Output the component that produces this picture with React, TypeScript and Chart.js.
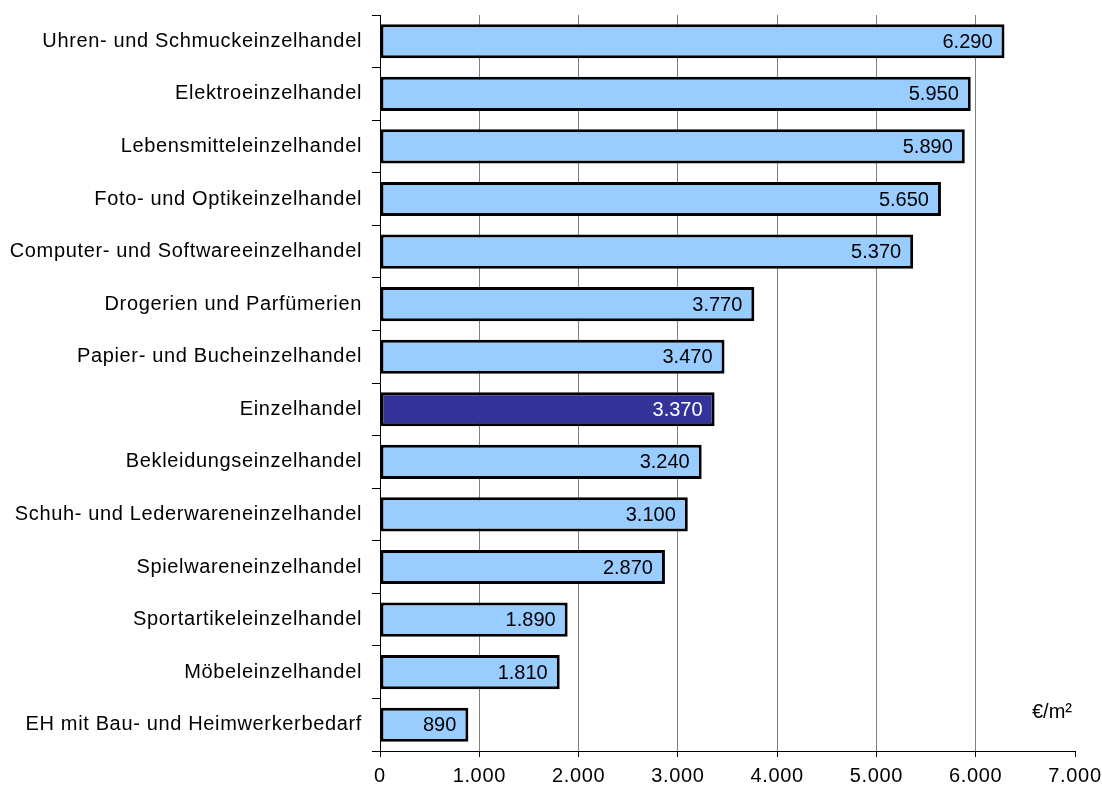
import { useEffect, useRef } from 'react';
import { Chart, registerables } from 'chart.js';

Chart.register(...registerables);

// Umsatz je Quadratmeter Verkaufsfläche nach Branche
const categories = [
  'Uhren- und Schmuckeinzelhandel',
  'Elektroeinzelhandel',
  'Lebensmitteleinzelhandel',
  'Foto- und Optikeinzelhandel',
  'Computer- und Softwareeinzelhandel',
  'Drogerien und Parfümerien',
  'Papier- und Bucheinzelhandel',
  'Einzelhandel',
  'Bekleidungseinzelhandel',
  'Schuh- und Lederwareneinzelhandel',
  'Spielwareneinzelhandel',
  'Sportartikeleinzelhandel',
  'Möbeleinzelhandel',
  'EH mit Bau- und Heimwerkerbedarf',
];
const values = [6290, 5950, 5890, 5650, 5370, 3770, 3470, 3370, 3240, 3100, 2870, 1890, 1810, 890];
const highlighted = 'Einzelhandel';
const axisMin = 0;
const axisMax = 7000;
const axisStep = 1000;
const unitLabel = '€/m²';

const FONT = '"Liberation Sans", Arial, Helvetica, sans-serif';
const LIGHT = '#99CCFF';
const DARK = '#333399';

const formatDe = (n: number) => String(n).replace(/\B(?=(\d{3})+(?!\d))/g, '.');

const barLabels = {
  id: 'barLabels',
  beforeDraw(chart: any) {
    // slightly tracked category labels
    chart.ctx.letterSpacing = '0.65px';
  },
  afterDatasetsDraw(chart: any) {
    const ctx = chart.ctx;
    const meta = chart.getDatasetMeta(0);
    ctx.save();
    ctx.letterSpacing = '0px';
    ctx.font = `20px ${FONT}`;
    ctx.textAlign = 'right';
    ctx.textBaseline = 'middle';
    meta.data.forEach((bar: any, i: number) => {
      ctx.fillStyle = categories[i] === highlighted ? '#FFFFFF' : '#000000';
      ctx.fillText(formatDe(values[i]), bar.x - 12, bar.y + 1);
    });
    ctx.restore();
  },
  afterDraw(chart: any) {
    const ctx = chart.ctx;
    const area = chart.chartArea;
    ctx.save();
    ctx.letterSpacing = '0px';
    ctx.font = `20px ${FONT}`;
    ctx.fillStyle = '#000000';
    ctx.textAlign = 'right';
    ctx.textBaseline = 'middle';
    ctx.fillText(unitLabel, area.right - 3, area.bottom - 39);
    ctx.restore();
  },
};

export default function App() {
  const canvasRef = useRef<HTMLCanvasElement | null>(null);

  useEffect(() => {
    if (!canvasRef.current) return;
    const chart = new Chart(canvasRef.current, {
      type: 'bar',
      data: {
        labels: categories,
        datasets: [
          {
            data: values,
            backgroundColor: categories.map((c) => (c === highlighted ? DARK : LIGHT)),
            borderColor: '#000000',
            borderWidth: 3,
            borderSkipped: false,
            barPercentage: 0.65,
            categoryPercentage: 1,
          },
        ],
      },
      options: {
        indexAxis: 'y',
        animation: false,
        responsive: true,
        maintainAspectRatio: false,
        layout: { padding: { top: 15, right: 27, bottom: 0, left: 0 } },
        plugins: {
          legend: { display: false },
          tooltip: { enabled: false },
        },
        scales: {
          x: {
            min: axisMin,
            max: axisMax,
            afterFit: (scale: any) => {
              scale.height = 38;
              scale.paddingLeft = 0;
              scale.paddingRight = 0;
            },
            ticks: {
              stepSize: axisStep,
              color: '#000000',
              font: { family: FONT, size: 20 },
              padding: 7,
              maxRotation: 0,
              callback: (v: any) => formatDe(Number(v)),
            },
            grid: {
              color: (ctx: any) =>
                ctx.tick && (ctx.tick.value === axisMin || ctx.tick.value === axisMax)
                  ? 'rgba(0,0,0,0)'
                  : '#808080',
              tickColor: '#000000',
              tickLength: 6,
              lineWidth: 1,
            },
            border: { color: '#000000', width: 1 },
          },
          y: {
            afterFit: (scale: any) => {
              scale.width = 380;
              scale.paddingTop = 0;
              scale.paddingBottom = 0;
            },
            ticks: {
              color: '#000000',
              font: { family: FONT, size: 20 },
              padding: 10,
              autoSkip: false,
            },
            grid: {
              offset: true,
              drawOnChartArea: false,
              tickColor: '#000000',
              tickLength: 8,
              lineWidth: 1,
            },
            border: { color: '#000000', width: 1 },
          },
        },
      },
      plugins: [barLabels],
    });
    return () => chart.destroy();
  }, []);

  return (
    <div style={{ position: 'fixed', left: 0, top: 0, width: 1102, height: 789, background: '#ffffff' }}>
      <canvas ref={canvasRef} />
    </div>
  );
}
